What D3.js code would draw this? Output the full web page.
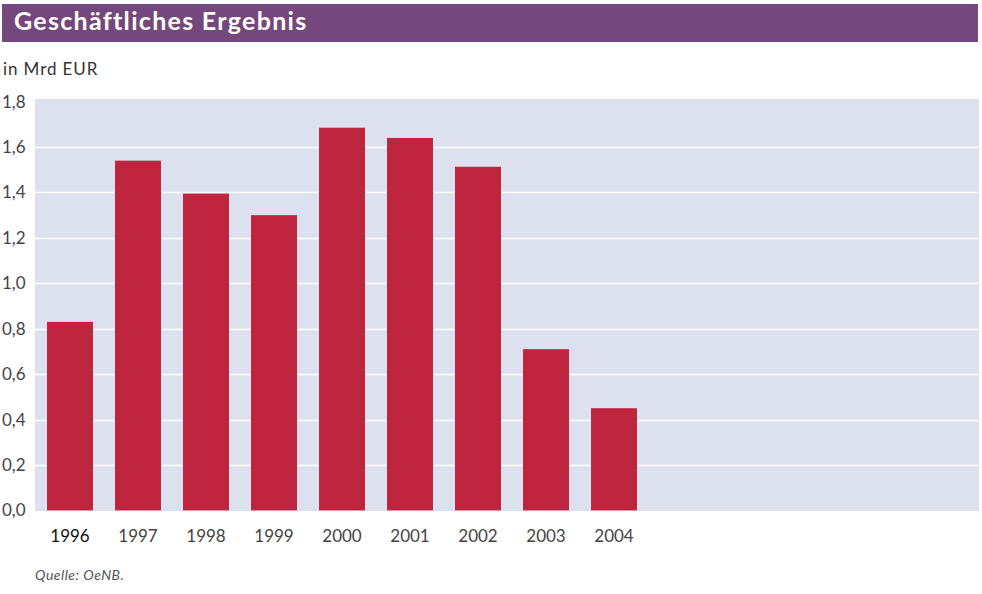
<!DOCTYPE html>
<html><head><meta charset="utf-8">
<script src="https://cdn.jsdelivr.net/npm/d3@7"></script>
<style>body{margin:0;background:#fff;}svg{display:block;font-family:Lato,"Open Sans",sans-serif;}</style>
</head><body>
<svg id="c" width="982" height="594"></svg>
<script>
const years = ["1996","1997","1998","1999","2000","2001","2002","2003","2004"];
const values = [0.83, 1.54, 1.395, 1.30, 1.685, 1.64, 1.513, 0.71, 0.45];
const yTicks = [0,0.2,0.4,0.6,0.8,1.0,1.2,1.4,1.6,1.8];
const titleText = "Geschäftliches Ergebnis";
const unitText = "in Mrd EUR";
const sourceText = "Quelle: OeNB.";

const svg = d3.select("#c");
const plot = {left:35, right:979, top:99, bottom:511};
const y = d3.scaleLinear().domain([0,1.8]).range([510.4, 101.6]);
const x = d3.scaleBand().domain(years).range([36, 36+68*years.length]).paddingInner(0.324).paddingOuter(0.162);

// title bar
svg.append("rect").attr("x",2).attr("y",4).attr("width",976).attr("height",38).attr("fill","#74487c");
svg.append("text").attr("x",14).attr("y",30).attr("fill","#fff").attr("font-weight","bold").attr("font-size",25).attr("letter-spacing",1.3).text(titleText);
svg.append("text").attr("x",3).attr("y",75).attr("fill","#333").attr("font-size",17).attr("letter-spacing",0.9).text(unitText);

// plot bg
svg.append("rect").attr("x",plot.left).attr("y",plot.top).attr("width",plot.right-plot.left).attr("height",plot.bottom-plot.top).attr("fill","#dde0ee");

// gridlines
svg.append("g").selectAll("line").data(yTicks.filter(d=>d>0&&d<1.8)).join("line")
  .attr("x1",plot.left).attr("x2",978).attr("y1",d=>Math.round(y(d))+0.5).attr("y2",d=>Math.round(y(d))+0.5)
  .attr("stroke","#fff").attr("stroke-width",1.6);

// y tick labels
const fmt = d=>d3.format(".1f")(d).replace(".",",");
svg.append("g").selectAll("text").data(yTicks).join("text")
  .attr("x",2).attr("y",d=>y(d)+6).attr("font-size",17).attr("fill","#444").text(fmt);

// bars
svg.append("g").selectAll("rect").data(years).join("rect")
  .attr("x",d=>x(d)).attr("width",x.bandwidth())
  .attr("y",(d,i)=>y(values[i])).attr("height",(d,i)=>y(0)-y(values[i]))
  .attr("fill","#c0253f");

// x labels
svg.append("g").selectAll("text").data(years).join("text")
  .attr("x",d=>x(d)+x.bandwidth()/2).attr("y",542).attr("text-anchor","middle")
  .attr("font-size",17).attr("fill",(d,i)=>i===0?"#111":"#444").text(d=>d);

svg.append("text").attr("x",35).attr("y",580).attr("font-size",14).attr("letter-spacing",0.5).attr("font-style","italic").attr("fill","#555").text(sourceText);
</script>
</body></html>
